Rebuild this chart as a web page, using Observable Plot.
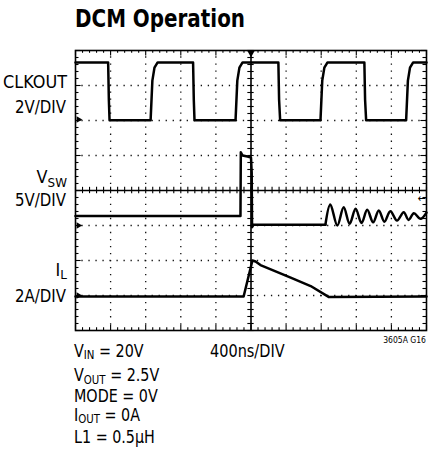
<!DOCTYPE html>
<html><head><meta charset="utf-8">
<script src="https://cdn.jsdelivr.net/npm/d3@7"></script>
<script src="https://cdn.jsdelivr.net/npm/@observablehq/plot@0.6"></script>
<style>
body{margin:0;background:#fff;}
#chart{width:436px;height:458px;}
svg{font-family:"Liberation Sans Narrow","DejaVu Sans Condensed",sans-serif;}
</style></head><body><div id="chart"></div>
<script>
// ---- data (time in divisions 0..10, amplitude in divisions 0..8 from bottom) ----
const clkout = [[0,7.66],[0.93,7.66],[0.95,6.6],[0.97,6.01],[2.14,6.01],[2.19,7.14],[2.25,7.51],[2.34,7.66],
  [3.35,7.66],[3.37,6.6],[3.39,6.01],[4.56,6.01],[4.61,7.14],[4.67,7.51],[4.76,7.66],
  [5.78,7.66],[5.80,6.6],[5.83,6.01],[6.98,6.01],[7.03,7.14],[7.09,7.51],[7.18,7.66],
  [8.23,7.66],[8.25,6.6],[8.28,6.01],[9.42,6.01],[9.47,7.14],[9.53,7.51],[9.62,7.66],[10,7.66]];
const vsw = [[0,3.27],[4.70,3.27],[4.71,5.09],[4.76,5.0],[4.9,4.97],[5.0,4.94],[5.02,4.5],[5.03,2.95],[5.07,3.02],
  [7.12,3.02]];
const vswRinging = [[7.12,3.02],[7.26,3.6],[7.46,3.0],[7.64,3.52],[7.81,3.05],[7.98,3.48],[8.15,3.07],[8.31,3.45],[8.48,3.09],
  [8.64,3.43],[8.80,3.11],[8.97,3.41],[9.16,3.14],[9.35,3.38],[9.49,3.16],[9.64,3.35],[9.83,3.19],[10,3.37]];
const il = [[0,0.97],[4.79,0.97],[5.04,2.0],[5.13,1.97],[5.27,1.87],[6.13,1.51],[6.70,1.27],[7.21,0.96],[10,0.97]];
const groundLevels = [6.03, 3.0, 1.0];
const triggerLevel = 3.77;
const triggerTime = 5;

const titleText = "DCM Operation";
const channelNames = [["CLKOUT",""],["V","SW"],["I","L"]];
const channelScales = ["2V/DIV","5V/DIV","2A/DIV"];
const conditions = [["V","IN"," = 20V"],["V","OUT"," = 2.5V"],["MODE = 0V","",""],["I","OUT"," = 0A"],["L1 = 0.5µH","",""]];
const timebase = "400ns/DIV";
const figId = "3605A G16";
const divX = d3.range(0, 11);
const divY = d3.range(0, 9);

// ---- build ----
const minorX = d3.range(0, 51).map(i => i / 5);
const minorY = d3.range(0, 41).map(i => i / 5);
const rows = (arr, ch) => arr.map(([t, v]) => ({t, v, ch}));
const traces = [...rows(clkout, "clk"), ...rows(vsw, "vsw"), ...rows(il, "il")];
const ringing = rows(vswRinging, "ring");
const isMaj = d => Number.isInteger(d);
const dotted = {stroke: "#111", strokeWidth: 1.3, strokeDasharray: "1.3 5.72", strokeDashoffset: 0.65};
const tk = {stroke: "#000", strokeWidth: 1.1};
const traceStyle = {x: "t", y: "v", z: "ch", stroke: "#000", strokeWidth: 2.5, strokeLinejoin: "round"};

const plot = Plot.plot({
  width: 436, height: 458,
  marginTop: 50, marginLeft: 75, marginRight: 10, marginBottom: 128,
  x: {domain: [0, 10], axis: null},
  y: {domain: [0, 8], axis: null},
  marks: [
    Plot.ruleX(divX.filter(d => d > 0 && d < 10 && d !== 5), dotted),
    Plot.ruleY(divY.filter(d => d > 0 && d < 8 && d !== 4), dotted),
    Plot.ruleX([5], {stroke: "#000", strokeWidth: 1.6}),
    Plot.ruleY([4], {stroke: "#000", strokeWidth: 1.3}),
    Plot.ruleX(minorX, {x: d => d, y1: 4 - 0.09, y2: 4 + 0.09, ...tk}),
    Plot.ruleY(minorY, {y: d => d, x1: 5 - 0.09, x2: 5 + 0.09, ...tk}),
    Plot.ruleX(minorX, {x: d => d, y1: 8, y2: d => 8 - (isMaj(d) ? 0.16 : 0.08), ...tk}),
    Plot.ruleX(minorX, {x: d => d, y1: 0, y2: d => (isMaj(d) ? 0.16 : 0.08), ...tk}),
    Plot.ruleY(minorY, {y: d => d, x1: 0, x2: d => (isMaj(d) ? 0.16 : 0.1), ...tk}),
    Plot.ruleY(minorY, {y: d => d, x1: 10, x2: d => 10 - (isMaj(d) ? 0.16 : 0.1), ...tk}),
    Plot.frame({stroke: "#000", strokeWidth: 1.6}),
    Plot.line(traces, traceStyle),
    Plot.line(ringing, {...traceStyle, curve: "catmull-rom"}),
    Plot.dot(groundLevels, {x: 0, y: d => d, symbol: "triangle", rotate: 90, r: 2.4, fill: "#000", dx: 3}),
    Plot.dot([triggerTime], {x: d => d, y: 8, symbol: "triangle", rotate: 180, r: 3, fill: "#000", dy: 2}),
    Plot.text([triggerLevel], {x: 9.86, y: d => d, text: () => "←", fontSize: 11, fill: "#000"})
  ]
});
document.getElementById("chart").appendChild(plot);

// ---- text ----
const svg = d3.select(plot);
function label(x, y, size, anchor, parts, subSize, shift, weight, fit) {
  const t = svg.append("text").attr("x", x).attr("y", y).attr("font-size", size)
    .attr("text-anchor", anchor).attr("fill", "#000").attr("font-weight", weight || "normal");
  const [main, sub, rest] = parts;
  t.append("tspan").text(main);
  if (sub) t.append("tspan").attr("font-size", subSize).attr("dy", shift).text(sub);
  if (rest) t.append("tspan").attr("dy", sub ? -shift : 0).text(rest);
  if (fit && fit !== 1) {
    const w = t.node().getComputedTextLength();
    t.attr("textLength", w * fit).attr("lengthAdjust", "spacingAndGlyphs");
  }
  return t;
}
label(75, 27, 25, "start", [titleText], 0, 0, "bold", 0.885);
const nameBase = [88.3, 183, 275.5], scaleBase = [113, 206, 301.5];
channelNames.forEach((p, i) => label(67, nameBase[i], 17.5, "end", p, 13, 3.5, "normal", 1.02));
channelScales.forEach((s, i) => label(66, scaleBase[i], 17.5, "end", [s], 0, 0, "normal", 0.95));
const condBase = [356.7, 381.2, 401.5, 420.8, 442.6];
conditions.forEach((p, i) => label(74, condBase[i], 17.5, "start", p, 12.5, 2.5, "normal", 0.91));
label(210, 356.7, 17.5, "start", [timebase], 0, 0, "normal", 0.92);
label(426, 343, 8.5, "end", [figId], 0, 0, "normal", 1);
</script></body></html>
